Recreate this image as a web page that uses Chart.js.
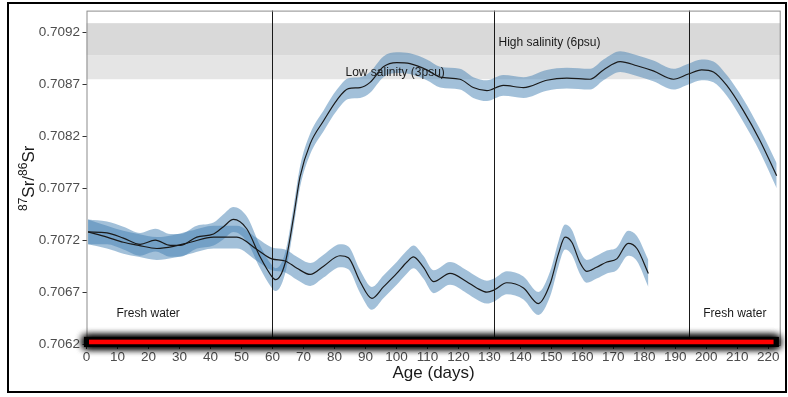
<!DOCTYPE html>
<html lang="en">
<head>
<meta charset="UTF-8">
<title>Sr isotope profile</title>
<script src="https://cdn.jsdelivr.net/npm/chart.js@4.4.1/dist/chart.umd.min.js"></script>
<style>
  body { margin: 0; background: #fff; }
</style>
</head>
<body>
<canvas id="myChart" width="788" height="397"></canvas>
<script>
// fish 1: moved to brackish water at ~60 days, back to fresh water at ~195
const ageA = [0.5, 6.6, 11.9, 17.3, 22.2, 27, 30.2, 35.6, 41, 44.2,
              47.4, 51.7, 56, 59.8, 61, 64.1, 66.8, 68.9, 72.2, 76.5,
              80.8, 84.5, 88.3, 91.5, 95.8, 100.1, 104.4, 109.8, 114.1, 120.5,
              124.8, 129.2, 134.5, 141, 148.5, 155, 162.5, 166.8, 172.2, 177.6,
              182.9, 189.4, 194.2, 198.5, 202.3, 206.6, 211.9, 217.3, 222.7];
const srA = [0.70728, 0.70727, 0.70722, 0.70716, 0.70720, 0.70715, 0.70715, 0.70723, 0.70726, 0.70733,
             0.70740, 0.70731, 0.70704, 0.70685, 0.70682, 0.70698, 0.70742, 0.70781, 0.70813, 0.70835,
             0.70855, 0.70866, 0.70867, 0.70872, 0.70887, 0.70891, 0.70890, 0.70884, 0.70877, 0.70875,
             0.70867, 0.70864, 0.70869, 0.70867, 0.70874, 0.70876, 0.70875, 0.70884, 0.70892, 0.70888,
             0.70883, 0.70875, 0.70880, 0.70884, 0.70882, 0.70869, 0.70845, 0.70816, 0.70782];
const seA = [0.00012, 0.00011, 0.00011, 0.00011, 0.00011, 0.00011, 0.00011, 0.00011, 0.00011, 0.00012,
             0.00012, 0.00012, 0.00011, 0.00011, 0.00011, 0.0001, 0.0001, 0.0001, 0.0001, 0.0001,
             0.0001, 0.0001, 0.0001, 0.0001, 0.0001, 0.0001, 0.0001, 0.0001, 0.0001, 0.0001,
             0.0001, 0.0001, 0.0001, 0.0001, 0.0001, 0.0001, 0.0001, 0.0001, 0.0001, 0.0001,
             0.0001, 0.0001, 0.0001, 0.0001, 0.0001, 0.0001, 0.00011, 0.00011, 0.00012];

// fish 2: stays in fresh water
const ageB = [0.5, 6.6, 11.9, 16.8, 22.7, 28.1, 33.5, 41, 48.5, 55,
              59.8, 64.1, 67.9, 72.2, 76.5, 81.8, 84.5, 88.3, 92.1, 95.8,
              100.1, 103.4, 105.5, 108.7, 112, 117.3, 122.7, 125.9, 129.2, 131.5,
              135.6, 141, 145.8, 149.6, 152.3, 154.4, 156.6, 159.3, 161.4, 164.6,
              167.9, 171.1, 174.8, 177.6, 181.3];
const srB = [0.70728, 0.70723, 0.70718, 0.70715, 0.70712, 0.70714, 0.70718, 0.70723, 0.70723, 0.70711,
             0.70702, 0.70700, 0.70693, 0.70687, 0.70695, 0.70705, 0.70703, 0.70680, 0.70664, 0.70675,
             0.70688, 0.70699, 0.70704, 0.70694, 0.70680, 0.70688, 0.70680, 0.70674, 0.70670, 0.70672,
             0.70679, 0.70674, 0.70659, 0.70678, 0.70707, 0.70723, 0.70718, 0.70698, 0.70690, 0.70694,
             0.70699, 0.70702, 0.70717, 0.70712, 0.70688];
const seB = [0.00012, 0.00011, 0.00011, 0.00011, 0.00011, 0.00011, 0.00011, 0.00011, 0.00011, 0.00011,
             0.00011, 0.00011, 0.00011, 0.00011, 0.00011, 0.00011, 0.00011, 0.00011, 0.00011, 0.00011,
             0.00011, 0.00011, 0.00011, 0.00011, 0.00011, 0.00011, 0.00011, 0.00011, 0.00011, 0.00011,
             0.00011, 0.00011, 0.00011, 0.00012, 0.00012, 0.00012, 0.00012, 0.00011, 0.00011, 0.00011,
             0.00011, 0.00011, 0.00012, 0.00012, 0.00013];

const xTicks = [0, 10, 20, 30, 40, 50, 60, 70, 80, 90, 100, 110, 120, 130, 140, 150, 160, 170, 180, 190, 200, 210, 220];
const yTicks = [0.7062, 0.7067, 0.7072, 0.7077, 0.7082, 0.7087, 0.7092];

// habitat changes and salinity reference ranges
const switchAges = [60, 131.5, 194.5];
const lowBand = [0.70875, 0.70898];
const highBand = [0.70898, 0.70929];
const notes = [
  { text: 'High salinity (6psu)', x: 149.4, y: 0.70910 },
  { text: 'Low salinity (3psu)', x: 99.6, y: 0.70881 },
  { text: 'Fresh water', x: 19.9, y: 0.70649 },
  { text: 'Fresh water', x: 209.2, y: 0.70649 }
];
// red marker along the base of the panel
const redBar = { from: 0.8, to: 221.7, level: 0.70622 };

function pts(ages, vals, se, sign) {
  return ages.map((a, i) => ({ x: a, y: vals[i] + sign * se[i] }));
}

const ribbon = 'rgba(70,130,180,0.5)';
const lineOpts = { pointRadius: 0, cubicInterpolationMode: 'monotone', borderColor: '#1a1a1a', borderWidth: 1.2, fill: false };
const bandOpts = { pointRadius: 0, cubicInterpolationMode: 'monotone', borderWidth: 0, borderColor: 'rgba(0,0,0,0)', backgroundColor: ribbon };

const decor = {
  id: 'decor',
  beforeDatasetsDraw(chart) {
    const { ctx, chartArea: a, scales: { y } } = chart;
    ctx.save();
    ctx.fillStyle = '#e5e5e5';
    ctx.fillRect(a.left, y.getPixelForValue(lowBand[1]), a.width, y.getPixelForValue(lowBand[0]) - y.getPixelForValue(lowBand[1]));
    ctx.fillStyle = '#d9d9d9';
    ctx.fillRect(a.left, y.getPixelForValue(highBand[1]), a.width, y.getPixelForValue(highBand[0]) - y.getPixelForValue(highBand[1]));
    ctx.restore();
  },
  afterDatasetsDraw(chart) {
    const { ctx, chartArea: a, scales: { x, y } } = chart;
    ctx.save();
    ctx.strokeStyle = '#1a1a1a';
    ctx.lineWidth = 1;
    switchAges.forEach(d => {
      const px = Math.round(x.getPixelForValue(d)) + 0.5;
      ctx.beginPath();
      ctx.moveTo(px, a.top);
      ctx.lineTo(px, a.bottom);
      ctx.stroke();
    });
    ctx.fillStyle = '#1a1a1a';
    ctx.font = '12px "Liberation Sans", Arial, sans-serif';
    ctx.textAlign = 'center';
    ctx.textBaseline = 'middle';
    notes.forEach(n => ctx.fillText(n.text, x.getPixelForValue(n.x), y.getPixelForValue(n.y)));
    ctx.strokeStyle = '#8c8c8c';
    ctx.strokeRect(a.left + 0.5, a.top + 0.5, a.width - 1, a.height - 1);
    ctx.restore();
  },
  afterDraw(chart) {
    const { ctx, chartArea: a, scales: { x, y } } = chart;
    ctx.save();
    // red marker with black glow
    const x0 = x.getPixelForValue(redBar.from), x1 = x.getPixelForValue(redBar.to);
    const yy = y.getPixelForValue(redBar.level);
    ctx.shadowColor = '#000';
    ctx.shadowBlur = 8;
    ctx.fillStyle = '#000';
    for (let k = 0; k < 3; k++) ctx.fillRect(x0 - 5, yy - 5, x1 - x0 + 10, 10);
    ctx.shadowBlur = 0;
    ctx.fillStyle = '#ff0000';
    ctx.fillRect(x0, yy - 2.3, x1 - x0, 4.6);

    // y title 87Sr/86Sr
    ctx.translate(33.5, (a.top + a.bottom) / 2);
    ctx.rotate(-Math.PI / 2);
    ctx.fillStyle = '#1a1a1a';
    ctx.textBaseline = 'alphabetic';
    ctx.textAlign = 'left';
    const big = '17px "Liberation Sans", Arial, sans-serif';
    const sup = '12px "Liberation Sans", Arial, sans-serif';
    const parts = [['87', sup], ['Sr/', big], ['86', sup], ['Sr', big]];
    let w = 0;
    parts.forEach(p => { ctx.font = p[1]; w += ctx.measureText(p[0]).width; });
    let cx = -w / 2;
    parts.forEach(p => {
      ctx.font = p[1];
      ctx.fillText(p[0], cx, p[1] === sup ? -7 : 0);
      cx += ctx.measureText(p[0]).width;
    });
    ctx.restore();

    // outer frame
    ctx.save();
    ctx.strokeStyle = '#000';
    ctx.lineWidth = 2;
    ctx.strokeRect(8, 3, 778, 389);
    ctx.restore();
  }
};

const ctx = document.getElementById('myChart').getContext('2d');
const myChart = new Chart(ctx, {
  type: 'line',
  data: {
    datasets: [
      Object.assign({ data: pts(ageA, srA, seA, 0) }, lineOpts),
      Object.assign({ data: pts(ageB, srB, seB, 0) }, lineOpts),
      Object.assign({ data: pts(ageA, srA, seA, 1), fill: 3 }, bandOpts),
      Object.assign({ data: pts(ageA, srA, seA, -1), fill: false }, bandOpts),
      Object.assign({ data: pts(ageB, srB, seB, 1), fill: 5 }, bandOpts),
      Object.assign({ data: pts(ageB, srB, seB, -1), fill: false }, bandOpts)
    ]
  },
  options: {
    responsive: false,
    animation: false,
    devicePixelRatio: 1,
    layout: { padding: { top: 10, right: 7.3, bottom: 0, left: 0 } },
    plugins: { legend: { display: false }, tooltip: { enabled: false } },
    scales: {
      x: {
        type: 'linear',
        min: 0,
        max: 224,
        afterBuildTicks: s => { s.ticks = xTicks.map(v => ({ value: v })); },
        afterFit: s => { s.height = 51; },
        grid: { drawOnChartArea: false, drawTicks: true, tickLength: 3, color: '#333' },
        border: { display: false },
        ticks: { padding: 0, color: '#4d4d4d', font: { family: '"Liberation Sans", Arial, sans-serif', size: 13.5 }, maxRotation: 0, autoSkip: false },
        title: { display: true, text: 'Age (days)', color: '#1a1a1a', font: { family: '"Liberation Sans", Arial, sans-serif', size: 17 }, padding: { top: 0, bottom: 13.8 } }
      },
      y: {
        min: 0.706181,
        max: 0.709411,
        afterBuildTicks: s => { s.ticks = yTicks.map(v => ({ value: v })); },
        afterFit: s => { s.width = 86.5; },
        grid: { drawOnChartArea: false, drawTicks: true, tickLength: 4, color: '#333' },
        border: { display: false },
        ticks: { padding: 2.5, color: '#4d4d4d', font: { family: '"Liberation Sans", Arial, sans-serif', size: 13.5 }, callback: v => v.toFixed(4) }
      }
    }
  },
  plugins: [decor]
});
</script>
</body>
</html>
